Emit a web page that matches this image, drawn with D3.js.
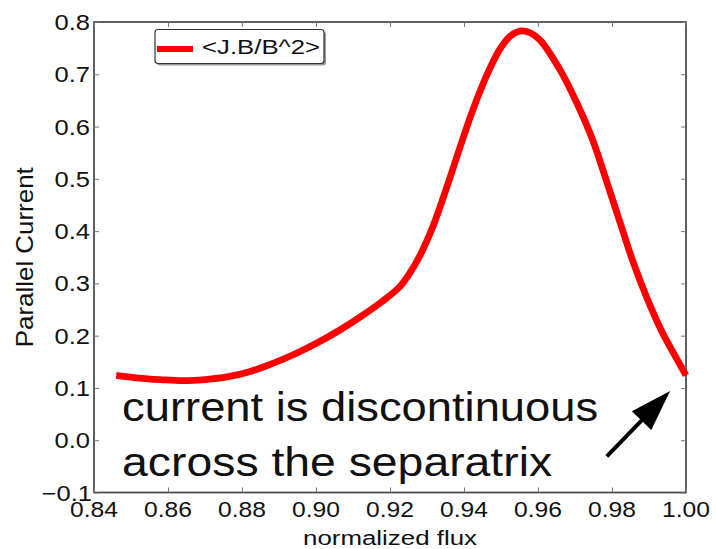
<!DOCTYPE html>
<html>
<head>
<meta charset="utf-8">
<script src="https://cdn.jsdelivr.net/npm/d3@7"></script>
<style>
  html, body { margin: 0; padding: 0; background: #fff; }
  svg { display: block; }
  text { font-family: "Liberation Sans", Arial, sans-serif; fill: #111; }
</style>
</head>
<body>
<svg id="chart" width="716" height="549"></svg>
<script>
// Flux-surface averaged parallel current <J.B/B^2> vs normalized flux
const flux = [0.846, 0.852, 0.858, 0.864, 0.870, 0.876, 0.882, 0.888, 0.894, 0.900,
              0.906, 0.912, 0.918, 0.9227, 0.925, 0.928, 0.9316, 0.9354, 0.9389, 0.9424,
              0.9462, 0.9497, 0.9525, 0.9555, 0.958, 0.9605, 0.966, 0.9705, 0.9749, 0.9786,
              0.9822, 0.9857, 0.9895, 0.9936, 0.9970, 1.000];
const current = [0.124, 0.119, 0.116, 0.114, 0.116, 0.121, 0.131, 0.146, 0.164, 0.185,
                 0.209, 0.236, 0.266, 0.294, 0.316, 0.352, 0.409, 0.485, 0.560, 0.632,
                 0.699, 0.748, 0.773, 0.783, 0.779, 0.766, 0.708, 0.645, 0.572, 0.494,
                 0.416, 0.341, 0.271, 0.206, 0.162, 0.124];

const xTicks = [0.84, 0.86, 0.88, 0.90, 0.92, 0.94, 0.96, 0.98, 1.00];
const yTicks = [-0.1, 0.0, 0.1, 0.2, 0.3, 0.4, 0.5, 0.6, 0.7, 0.8];
const xTickLabels = ["0.84", "0.86", "0.88", "0.90", "0.92", "0.94", "0.96", "0.98", "1.00"];
const yTickLabels = ["\u22120.1", "0.0", "0.1", "0.2", "0.3", "0.4", "0.5", "0.6", "0.7", "0.8"];

const seriesName = "<J.B/B^2>";
const xTitle = "normalized flux";
const yTitle = "Parallel Current";
const noteLines = ["current is discontinuous", "across the separatrix"];
// annotation: text anchor and arrow (tail -> tip) in data coordinates
const noteAt = [0.8476, 0.0372];
const arrowTail = [0.9786, -0.031];
const arrowTip = [0.9957, 0.094];

const svg = d3.select("#chart");
const plotLeft = 94, plotRight = 686, plotTop = 22, plotBottom = 492.5;

const x = d3.scaleLinear().domain([0.84, 1.00]).range([plotLeft, plotRight]);
const y = d3.scaleLinear().domain([-0.1, 0.8]).range([plotBottom, plotTop]);

// widen glyphs along the baseline by a factor
function widen(sel, factor) {
  sel.each(function () {
    const w = this.getComputedTextLength();
    d3.select(this).attr("textLength", w * factor).attr("lengthAdjust", "spacingAndGlyphs");
  });
}

// frame
const frameColor = "#444";
svg.append("rect")
  .attr("x", plotLeft).attr("y", plotTop)
  .attr("width", plotRight - plotLeft).attr("height", plotBottom - plotTop)
  .attr("fill", "none").attr("stroke", frameColor).attr("stroke-width", 1.7);

// inward ticks on all four sides
const tickLen = 5;
const axB = svg.append("g").attr("transform", `translate(0,${plotBottom})`)
  .call(d3.axisBottom(x).tickValues(xTicks).tickSizeInner(-tickLen).tickSizeOuter(0).tickFormat(""));
const axT = svg.append("g").attr("transform", `translate(0,${plotTop})`)
  .call(d3.axisTop(x).tickValues(xTicks).tickSizeInner(-tickLen).tickSizeOuter(0).tickFormat(""));
const axL = svg.append("g").attr("transform", `translate(${plotLeft},0)`)
  .call(d3.axisLeft(y).tickValues(yTicks).tickSizeInner(-tickLen).tickSizeOuter(0).tickFormat(""));
const axR = svg.append("g").attr("transform", `translate(${plotRight},0)`)
  .call(d3.axisRight(y).tickValues(yTicks).tickSizeInner(-tickLen).tickSizeOuter(0).tickFormat(""));
[axB, axT, axL, axR].forEach(a => {
  a.select(".domain").remove();
  a.selectAll(".tick line").attr("stroke", "#777").attr("stroke-width", 1);
});

// tick labels
svg.append("g").selectAll("text").data(xTicks).join("text")
  .attr("x", d => x(d)).attr("y", 516.5)
  .attr("text-anchor", "middle").attr("font-size", 22)
  .text((d, i) => xTickLabels[i])
  .call(widen, 1.12);

svg.append("g").selectAll("text").data(yTicks).join("text")
  .attr("x", (d, i) => i === 0 ? 92 : 90).attr("y", d => y(d) + 8)
  .attr("text-anchor", "end").attr("font-size", 22)
  .text((d, i) => yTickLabels[i])
  .call(widen, 1.16);

// axis titles
svg.append("text")
  .attr("x", (plotLeft + plotRight) / 2).attr("y", 545)
  .attr("text-anchor", "middle").attr("font-size", 20)
  .text(xTitle)
  .attr("textLength", 174).attr("lengthAdjust", "spacingAndGlyphs");

svg.append("text")
  .attr("transform", `translate(33,${(plotTop + plotBottom) / 2}) rotate(-90)`)
  .attr("text-anchor", "middle").attr("font-size", 24)
  .text(yTitle)
  .attr("textLength", 180).attr("lengthAdjust", "spacingAndGlyphs");

// curve
const line = d3.line().x((d, i) => x(flux[i])).y(d => y(d)).curve(d3.curveCatmullRom.alpha(0.5));
svg.append("path")
  .datum(current)
  .attr("d", line)
  .attr("fill", "none")
  .attr("stroke", "#ff0000")
  .attr("stroke-width", 6.8)
  .attr("stroke-linejoin", "round");

// legend
const lg = svg.append("g");
lg.append("rect").attr("x", 157).attr("y", 31.5).attr("width", 169).attr("height", 34)
  .attr("rx", 3).attr("fill", "#999");
lg.append("rect").attr("x", 155).attr("y", 29.5).attr("width", 169).attr("height", 34)
  .attr("rx", 3).attr("fill", "#fff").attr("stroke", "#333").attr("stroke-width", 1.2);
lg.append("line").attr("x1", 157).attr("x2", 193).attr("y1", 49).attr("y2", 49)
  .attr("stroke", "#ff0000").attr("stroke-width", 6);
lg.append("text").attr("x", 202).attr("y", 54).attr("font-size", 21)
  .text(seriesName)
  .attr("textLength", 118).attr("lengthAdjust", "spacingAndGlyphs");

// annotation text
const noteWidths = [476, 430];
svg.append("g").selectAll("text").data(noteLines).join("text")
  .attr("x", x(noteAt[0]))
  .attr("y", (d, i) => y(noteAt[1]) + i * 55.3)
  .attr("font-size", 40)
  .attr("fill", "#000")
  .text(d => d)
  .attr("textLength", (d, i) => noteWidths[i]).attr("lengthAdjust", "spacingAndGlyphs");

// annotation arrow
const tx = x(arrowTail[0]), ty = y(arrowTail[1]);
const hx = x(arrowTip[0]), hy = y(arrowTip[1]);
const ang = Math.atan2(hy - ty, hx - tx);
const headLen = 41, headHalf = 13.5;
const bx = hx - headLen * Math.cos(ang), by = hy - headLen * Math.sin(ang);
svg.append("line")
  .attr("x1", tx).attr("y1", ty).attr("x2", bx + 4 * Math.cos(ang)).attr("y2", by + 4 * Math.sin(ang))
  .attr("stroke", "#000").attr("stroke-width", 4);
svg.append("path")
  .attr("d", d3.line()([
    [hx, hy],
    [bx - headHalf * Math.sin(ang), by + headHalf * Math.cos(ang)],
    [bx + headHalf * Math.sin(ang), by - headHalf * Math.cos(ang)]
  ]) + "Z")
  .attr("fill", "#000");
</script>
</body>
</html>
